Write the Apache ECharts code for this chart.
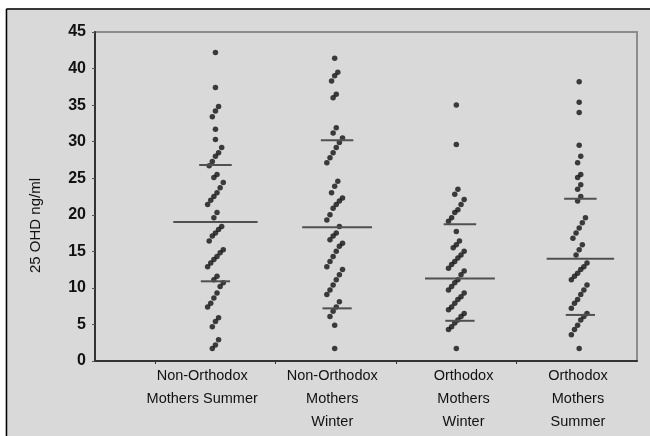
<!DOCTYPE html>
<html><head><meta charset="utf-8">
<script src="https://cdn.jsdelivr.net/npm/echarts@6/dist/echarts.min.js"></script>
<style>html,body{margin:0;padding:0;background:#fff}#c{width:650px;height:436px}</style>
</head><body><div id="c"></div>
<script>
// ---------- data ----------
const categories = [
  'Non-Orthodox\nMothers Summer',
  'Non-Orthodox\nMothers\nWinter',
  'Orthodox\nMothers\nWinter',
  'Orthodox\nMothers\nSummer'
];
const yTicks = [0, 5, 10, 15, 20, 25, 30, 35, 40, 45];

const nonOrthodoxSummer = [42.2, 37.4, 34.8, 34.2, 33.4, 31.7, 30.3, 29.2, 28.5, 28.0, 27.3, 26.7,
  25.5, 25.1, 24.4, 23.7, 23.0, 22.5, 22.0, 21.4, 20.3, 19.6, 18.4, 18.0, 17.5, 17.1, 16.4, 15.2, 14.8,
  14.3, 13.9, 13.4, 12.9, 11.6, 11.1, 10.7, 10.2, 9.3, 8.6, 7.9, 7.4, 5.9, 5.4, 4.7, 2.9, 2.2, 1.7];
const nonOrthodoxWinter = [41.4, 39.5, 39.0, 38.3, 36.5, 36.0, 31.9, 31.2, 30.5, 29.9, 29.2, 28.5,
  27.8, 27.1, 24.6, 23.9, 23.0, 22.3, 21.9, 21.4, 20.9, 20.0, 19.3, 18.4, 17.5, 17.1, 16.6, 16.1,
  15.7, 15.0, 14.3, 13.6, 12.9, 12.5, 11.8, 11.1, 10.4, 9.7, 9.1, 8.1, 7.4, 6.8, 6.1, 4.9, 1.7];
const orthodoxWinter = [35.0, 29.6, 23.5, 22.8, 22.1, 21.4, 20.7, 20.3, 19.6, 19.1, 17.7, 16.4, 15.9,
  15.5, 15.0, 14.5, 14.1, 13.6, 13.2, 12.7, 12.3, 11.8, 11.1, 10.7, 10.2, 9.7, 9.3, 8.8, 8.4, 7.9,
  7.4, 7.0, 6.5, 6.1, 5.6, 5.2, 4.7, 4.3, 1.7];
const orthodoxSummer = [38.2, 35.4, 34.0, 29.5, 28.0, 27.1, 25.5, 25.1, 24.1, 23.5, 22.5, 21.9, 19.6,
  18.9, 18.2, 17.5, 16.8, 15.9, 15.2, 14.5, 13.4, 12.9, 12.5, 12.0, 11.6, 11.1, 10.4, 9.7, 9.1, 8.4,
  7.9, 7.2, 6.5, 6.1, 5.6, 4.9, 4.3, 3.6, 1.7];

const medians = [19.0, 18.3, 11.3, 14.0];
const upperQuartiles = [26.8, 30.2, 18.7, 22.2];
const lowerQuartiles = [10.9, 7.2, 5.5, 6.3];

// ---------- styling / layout constants ----------
const groups = [nonOrthodoxSummer, nonOrthodoxWinter, orthodoxWinter, orthodoxSummer];
const dotShift = [0, -0.01, 0, 0.02];
const lineShift = [0, 0.01, 0.03, 0.03];
const medianHalf = [0.35, 0.29, 0.29, 0.28];
const quartHalf = 0.135;
const labelPos = [0.89, 1.97, 3.06, 4.01];
const STEP = 0.026, GAP = 0.9, MAXRUN = 6;
const FONT = 'Liberation Sans, Arial, sans-serif';

function swarm(values, cx) {
  const s = values.slice().sort((a, b) => a - b);
  const runs = []; let g = [s[0]];
  for (let i = 1; i < s.length; i++) {
    if (s[i] - s[i - 1] < GAP && g.length < MAXRUN) g.push(s[i]);
    else { runs.push(g); g = [s[i]]; }
  }
  runs.push(g);
  const pts = [];
  runs.forEach(r => { const n = r.length; r.forEach((v, i) => pts.push([cx + (i - (n - 1) / 2) * STEP, v])); });
  return pts;
}

const series = [];
groups.forEach((vals, k) => {
  series.push({
    type: 'scatter', data: swarm(vals, k + 1 + dotShift[k]), symbol: 'circle', symbolSize: 5.5,
    itemStyle: { color: '#111' }, z: 3, silent: true
  });
});
function hline(x, half, y, w) {
  return { type: 'line', data: [[x - half, y], [x + half, y]], symbol: 'none', silent: true, z: 4,
    lineStyle: { color: '#505050', width: w } };
}
for (let k = 0; k < 4; k++) {
  const c = k + 1 + lineShift[k];
  series.push(hline(c, medianHalf[k], medians[k], 2));
  series.push(hline(c, quartHalf, upperQuartiles[k], 2));
  series.push(hline(c, quartHalf * 0.9, lowerQuartiles[k], 2));
}

const chart = echarts.init(document.getElementById('c'), null, { renderer: 'canvas' });
chart.setOption({
  backgroundColor: '#d9d9d9',
  animation: false,
  grid: { left: 95, right: 13, top: 32, bottom: 75, show: true, borderColor: '#8c8c8c', borderWidth: 2, backgroundColor: 'transparent' },
  xAxis: {
    type: 'value', min: 0, max: 4.5,
    axisLine: { show: true, lineStyle: { color: '#333', width: 2 } },
    axisTick: { show: true, length: 3, customValues: [0.5, 1.5, 2.5, 3.5], lineStyle: { color: '#333' } },
    splitLine: { show: false },
    axisLabel: {
      customValues: labelPos, margin: 3,
      fontFamily: FONT, fontSize: 14.5, lineHeight: 23, color: '#111',
      formatter: v => { let b = 0; labelPos.forEach((p, i) => { if (Math.abs(p - v) < Math.abs(labelPos[b] - v)) b = i; }); return categories[b]; }
    }
  },
  yAxis: {
    type: 'value', min: 0, max: 45, interval: 5,
    name: '25 OHD ng/ml', nameLocation: 'middle', nameGap: 52, nameRotate: 90,
    nameTextStyle: { fontFamily: FONT, fontSize: 15, color: '#111', padding: [0, 58, 0, 0] },
    axisLine: { show: true, lineStyle: { color: '#333', width: 2 } },
    axisTick: { show: true, length: 3, lineStyle: { color: '#555' } },
    splitLine: { show: false },
    axisLabel: {
      margin: 9, fontFamily: FONT, fontSize: 16, fontWeight: 'bold', color: '#111',
      formatter: v => yTicks.includes(v) ? String(v) : ''
    }
  },
  graphic: [
    { type: 'rect', shape: { x: 0, y: 0, width: 650, height: 8 }, style: { fill: '#fff' }, silent: true },
    { type: 'rect', shape: { x: 0, y: 0, width: 5.5, height: 436 }, style: { fill: '#fff' }, silent: true },
    { type: 'line', shape: { x1: 6.5, y1: 9, x2: 650, y2: 9 }, style: { stroke: '#000', lineWidth: 1.5 }, silent: true },
    { type: 'line', shape: { x1: 6.5, y1: 9, x2: 6.5, y2: 436 }, style: { stroke: '#000', lineWidth: 1.5 }, silent: true }
  ],
  series: series
});
</script></body></html>
